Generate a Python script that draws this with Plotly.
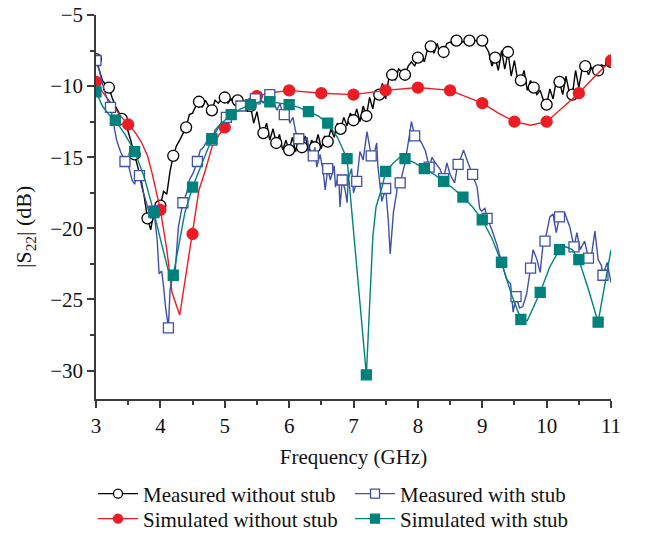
import numpy as np
import plotly.graph_objects as go

# ---------------- data ----------------
# Measured without stub (dense trace, 0.05 GHz step from 3 to 11 GHz)
meas_wo_y = [
    -8.1, -8.8, -9.6, -9.9, -10.1, -10.8, -11.4, -11.8, -12.3, -12.7,
    -13.2, -14.0, -14.8, -15.7, -16.6, -17.8, -19.3, -20.1, -18.8, -19.0,
    -18.4, -17.4, -17.6, -16.0, -14.9, -14.2, -13.8, -13.3, -12.9, -12.0,
    -11.9, -11.4, -11.1, -11.5, -11.0, -11.4, -11.7, -11.0, -11.2, -10.9,
    -10.8, -11.2, -10.9, -11.3, -11.0, -11.4, -11.0, -11.8, -11.4, -12.6,
    -11.8, -13.0, -13.3, -12.6, -13.8, -13.0, -14.0, -13.4, -14.5, -13.8,
    -14.5, -13.6, -14.6, -13.7, -14.3, -13.5, -14.6, -13.8, -14.3, -13.4,
    -14.4, -13.5, -13.9, -13.0, -13.6, -12.6, -13.0, -12.2, -12.8, -11.9,
    -12.4, -11.6, -12.5, -11.4, -12.1, -10.8, -11.6, -10.3, -10.6, -9.8,
    -10.9, -9.4, -9.2, -9.6, -8.8, -9.0, -9.2, -8.6, -8.3, -8.6,
    -8.0, -7.7, -8.3, -7.4, -7.2, -7.7, -7.0, -7.8, -7.6, -7.0,
    -6.9, -7.1, -6.8, -6.9, -6.9, -6.8, -6.8, -6.7, -6.8, -6.9,
    -6.8, -7.2, -7.6, -8.6, -8.0, -8.9, -7.5, -8.8, -7.6, -9.3,
    -8.2, -9.6, -9.6, -8.9, -10.3, -9.6, -10.1, -10.6, -10.3, -11.0,
    -11.3, -10.2, -10.9, -9.6, -9.7, -10.6, -9.3, -10.4, -10.6, -8.9,
    -10.1, -8.8, -8.6, -9.2, -8.7, -8.9, -8.9, -8.5, -8.6, -8.3,
    -8.3,
]
meas_wo_x = np.round(3 + 0.05 * np.arange(len(meas_wo_y)), 2)
meas_wo_mark_step = 4  # a circle every 0.2 GHz

# Simulated without stub
sim_wo_x = [3.0, 3.1, 3.2, 3.3, 3.4, 3.5, 3.6, 3.7, 3.8, 3.87, 3.95, 4.0, 4.1, 4.18,
            4.3, 4.4, 4.5, 4.6, 4.7, 4.8, 4.9, 5.0, 5.1, 5.2, 5.3, 5.5, 5.75,
            6.0, 6.5, 7.0, 7.5, 8.0, 8.5, 9.0, 9.25, 9.5, 9.75, 10.0, 10.25,
            10.5, 10.75, 11.0]
sim_wo_y = [-9.7, -10.4, -11.0, -11.6, -12.2, -12.7, -13.2, -13.9, -14.9, -16.1, -17.6, -18.7,
            -21.5, -24.5, -26.1, -23.2, -20.4, -17.3, -15.9, -14.3, -13.5, -12.9, -12.0,
            -11.5, -11.1, -10.7, -10.45, -10.3, -10.5, -10.6, -10.3, -10.1, -10.3,
            -11.2, -11.9, -12.5, -12.75, -12.5, -11.5, -10.5, -9.3, -8.2]
sim_wo_mark_x = [3.0, 3.5, 4.0, 4.5, 5.0, 5.5, 6.0, 6.5, 7.0, 7.5, 8.0, 8.5,
                 9.0, 9.5, 10.0, 10.5, 11.0]

# Measured with stub: trace points
meas_w_x = [3.05, 3.1, 3.15, 3.27, 3.32, 3.38, 3.5, 3.56, 3.6, 3.64, 3.71, 3.77, 3.82,
            3.85, 3.95, 3.98, 4.02, 4.05, 4.08, 4.15, 4.2, 4.23, 4.28, 4.41, 4.45,
            4.51, 4.62, 4.67, 4.73, 4.85, 4.93, 5.08, 5.15, 5.34, 5.41, 5.54, 5.6,
            5.65, 5.75, 5.81, 5.86, 5.91, 5.96, 6.01, 6.06, 6.1, 6.2, 6.28, 6.33,
            6.4, 6.43, 6.48, 6.53, 6.56, 6.64, 6.7, 6.72, 6.77, 6.79, 6.87, 6.9,
            6.92, 6.97, 7.0, 7.1, 7.15, 7.21, 7.32, 7.36, 7.38, 7.44, 7.54, 7.57,
            7.62, 7.67, 7.69, 7.8, 7.85, 7.9, 8.0, 8.06, 8.12, 8.22, 8.27, 8.34,
            8.45, 8.5, 8.57, 8.6, 8.67, 8.71, 8.78, 8.92, 8.96, 8.99, 9.04, 9.15,
            9.23, 9.38, 9.44, 9.48, 9.58, 9.63, 9.69, 9.79, 9.85, 9.9, 9.94,
            10.05, 10.1, 10.15, 10.28, 10.36, 10.47, 10.52, 10.59, 10.7, 10.75,
            10.8, 10.85, 10.94, 11.0]
meas_w_y = [-8.9, -9.8, -10.6, -12.6, -13.8, -14.6, -15.5, -16.6, -16.9, -16.1, -17.1, -18.0,
            -18.9, -19.3, -20.8, -23.2, -23.0, -24.1, -25.5, -24.3, -23.2, -23.0, -19.9,
            -17.5, -16.6, -16.1, -14.5, -14.3, -13.8, -13.1, -12.7, -11.7, -11.8, -11.0,
            -10.8, -10.8, -11.2, -10.7, -11.0, -11.7, -11.2, -12.2, -11.5, -12.6, -12.2,
            -13.2, -14.0, -13.6, -15.0, -14.3, -15.7, -14.8, -16.0, -17.3, -16.6, -15.6,
            -17.1, -16.2, -18.5, -17.3, -18.2, -16.5, -15.8, -17.5, -14.6, -15.2, -13.2,
            -14.8, -14.0, -15.7, -18.1, -19.4, -21.8, -18.9, -17.5, -16.4, -15.4, -14.0,
            -12.5, -13.6, -14.0, -14.6, -15.0, -15.4, -15.8, -15.4, -16.2, -16.8, -16.0,
            -15.0, -14.5, -15.4, -17.1, -18.6, -18.8, -18.6, -20.1, -21.2, -23.6, -23.9,
            -25.9, -25.6, -25.5, -24.6, -21.5, -22.2, -23.1, -21.3, -19.2, -19.0, -20.3,
            -18.9, -19.9, -20.3, -21.5, -20.9, -21.8, -20.2, -22.2, -22.6, -22.4, -23.8]
# Measured with stub: square markers (every 0.225 GHz)
meas_w_mark_x = [3.0, 3.225, 3.45, 3.675, 3.9, 4.125, 4.35, 4.575, 4.8, 5.025, 5.25,
                 5.475, 5.7, 5.925, 6.15, 6.375, 6.6, 6.825, 7.05, 7.275, 7.5, 7.725,
                 7.95, 8.175, 8.4, 8.625, 8.85, 9.075, 9.3, 9.525, 9.75, 9.975, 10.2,
                 10.425, 10.65, 10.875]
meas_w_mark_y = [-8.2, -11.5, -15.3, -16.3, -18.8, -27.0, -18.2, -15.3, -13.8, -12.2, -11.4,
                 -10.9, -10.6, -12.0, -13.7, -14.9, -15.8, -16.6, -16.7, -14.9, -17.2, -16.8,
                 -13.5, -15.7, -16.5, -15.5, -16.2, -19.3, -22.4, -24.8, -22.8, -20.9, -19.2,
                 -21.3, -22.1, -23.3]

# Simulated with stub
sim_w_x = [3.0, 3.1, 3.2, 3.3, 3.45, 3.6, 3.75, 3.9, 4.03, 4.12, 4.2, 4.3, 4.38, 4.5,
           4.62, 4.8, 4.93, 5.1, 5.25, 5.4, 5.55, 5.7, 5.85, 6.0, 6.15, 6.3, 6.45,
           6.6, 6.75, 6.9, 7.2, 7.3, 7.35, 7.45, 7.5, 7.62, 7.72, 7.8, 7.95, 8.1,
           8.25, 8.4, 8.55, 8.7, 8.85, 9.0, 9.15, 9.3, 9.45, 9.6, 9.7, 9.9, 10.05,
           10.2, 10.3, 10.4, 10.5, 10.65, 10.8, 11.0]
sim_w_y = [-10.4, -11.4, -12.0, -12.4, -13.4, -14.6, -16.4, -18.9, -21.3, -22.9, -23.3, -20.8,
           -18.9, -17.1, -15.7, -13.7, -12.7, -12.0, -11.6, -11.3, -11.1, -11.1, -11.2,
           -11.3, -11.5, -11.8, -12.1, -12.6, -13.6, -15.1, -30.3, -20.6, -18.5, -17.0,
           -16.0, -15.4, -15.0, -15.1, -15.4, -15.8, -16.2, -16.7, -17.2, -17.8, -18.5,
           -19.4, -20.7, -22.4, -24.6, -26.4, -26.5, -24.5, -22.7, -21.5, -21.3, -21.5,
           -22.2, -24.3, -26.6, -21.5]
sim_w_mark_x = [3.0, 3.3, 3.6, 3.9, 4.2, 4.5, 4.8, 5.1, 5.4, 5.7, 6.0, 6.3, 6.6, 6.9,
                7.2, 7.5, 7.8, 8.1, 8.4, 8.7, 9.0, 9.3, 9.6, 9.9, 10.2, 10.5, 10.8]

x_ticks = [3, 4, 5, 6, 7, 8, 9, 10, 11]
y_ticks = [-5, -10, -15, -20, -25, -30]

# ---------------- helpers ----------------
def pick(xs, ys, wanted):
    d = {round(float(a), 3): b for a, b in zip(xs, ys)}
    return [d[round(float(w), 3)] for w in wanted]

mw = sorted(list(zip(meas_w_x, meas_w_y)) + list(zip(meas_w_mark_x, meas_w_mark_y)))
mw_x = [p[0] for p in mw]
mw_y = [p[1] for p in mw]

FONT = "Liberation Serif"
FS = 21
BLACK = "#000000"
RED = "#ED1C24"
BLUE = "#3F51A8"
TEAL = "#00827C"
LW = 1.4
W, H = 645, 533

fig = go.Figure()

def add_series(name, lx, ly, mx, my, color, symbol, fill, msize, legend_id):
    fig.add_trace(go.Scatter(x=lx, y=ly, mode="lines", line=dict(color=color, width=LW),
                             showlegend=False, hoverinfo="skip"))
    fig.add_trace(go.Scatter(x=mx, y=my, mode="markers",
                             marker=dict(symbol=symbol, size=msize, color=fill,
                                         line=dict(color=color, width=1.3)),
                             showlegend=False))
    fig.add_trace(go.Scatter(x=[None], y=[None], mode="lines+markers", name=name,
                             line=dict(color=color, width=LW),
                             marker=dict(symbol=symbol, size=9, color=fill,
                                         line=dict(color=color, width=1.3)),
                             legend=legend_id))

mwo_mx = list(meas_wo_x[::meas_wo_mark_step])
mwo_my = list(meas_wo_y[::meas_wo_mark_step])
add_series("Measured without stub", meas_wo_x, meas_wo_y, mwo_mx, mwo_my,
           BLACK, "circle", "white", 11, "legend")
add_series("Simulated without stub", sim_wo_x, sim_wo_y, sim_wo_mark_x,
           pick(sim_wo_x, sim_wo_y, sim_wo_mark_x), RED, "circle", RED, 11, "legend3")
add_series("Measured with stub", mw_x, mw_y, meas_w_mark_x, meas_w_mark_y,
           BLUE, "square", "white", 10, "legend2")
add_series("Simulated with stub", sim_w_x, sim_w_y, sim_w_mark_x,
           pick(sim_w_x, sim_w_y, sim_w_mark_x), TEAL, "square", TEAL, 10, "legend4")

def leg(px, py):
    return dict(orientation="h", xref="container", yref="container",
                x=px / W, y=1 - py / H, xanchor="left", yanchor="middle",
                itemwidth=40, font=dict(family=FONT, size=FS, color="#111111"),
                bgcolor="rgba(0,0,0,0)", borderwidth=0)

AX = "#3a3a3a"
fig.update_layout(
    width=W, height=H,
    margin=dict(l=96, r=34, t=15, b=134, autoexpand=False),
    paper_bgcolor="white", plot_bgcolor="white",
    font=dict(family=FONT, size=FS, color="#111111"),
    showlegend=True,
    legend=leg(93, 494), legend2=leg(350, 494),
    legend3=leg(93, 519), legend4=leg(350, 519),
    xaxis=dict(range=[3, 11], tickvals=x_ticks, ticks="outside", ticklen=7,
               tickwidth=1.5, tickcolor=AX, showline=True, linecolor=AX, linewidth=1.5,
               showgrid=False, zeroline=False, mirror=False,
               minor=dict(ticks="outside", ticklen=4, tickwidth=1.5, tickcolor=AX,
                          dtick=0.5, tick0=3, showgrid=False),
               title=dict(text="Frequency (GHz)", font=dict(family=FONT, size=FS), standoff=12)),
    yaxis=dict(range=[-32, -5], tickvals=y_ticks, ticks="outside", ticklen=7,
               tickwidth=1.5, tickcolor=AX, showline=True, linecolor=AX, linewidth=1.5,
               showgrid=False, zeroline=False, mirror=False,
               minor=dict(ticks="outside", ticklen=4, tickwidth=1.5, tickcolor=AX,
                          dtick=2.5, tick0=-5, showgrid=False)),
)
fig.add_annotation(text="|S<sub>22</sub>| (dB)", xref="paper", yref="paper",
                   x=-71 / 515, y=(399 - 227) / 384, xanchor="center", yanchor="middle",
                   textangle=-90, showarrow=False, font=dict(family=FONT, size=FS + 1))

fig.write_html("out.html")
